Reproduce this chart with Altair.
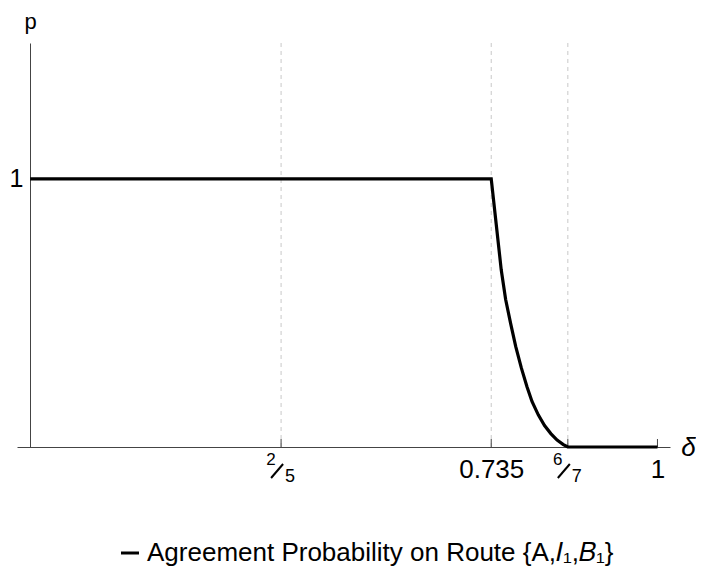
import altair as alt
import pandas as pd

# curve values
delta = [0.0, 0.735, 0.743, 0.751, 0.758, 0.766, 0.774, 0.783, 0.792, 0.800,
         0.810, 0.820, 0.830, 0.840, 0.850, 6/7, 1.0]
prob = [1.0, 1.0, 0.83, 0.66, 0.55, 0.46, 0.375, 0.295, 0.225, 0.17,
        0.12, 0.08, 0.05, 0.026, 0.009, 0.0, 0.0]
series_name = "Agreement Probability on Route {A,𝐼₁,𝐵₁}"

grid_pos = [0.4, 0.735, 6/7]
x_ticks = [0.4, 0.735, 6/7, 1.0]
x_tick_labels = ["", "0.735", "", "1"]
frac_pos = [0.4, 6/7]
frac_num = ["2", "6"]
frac_den = ["5", "7"]
y_ticks = [1.0]

FONT = "Liberation Sans"
XDOM = [-0.021, 1.02]
YDOM = [0, 1.507]

df = pd.DataFrame({"delta": delta, "p": prob, "series": series_name})
grid_df = pd.DataFrame({"g": grid_pos})
tick_df = pd.DataFrame({"t": x_ticks})
frac_df = pd.DataFrame({"f": frac_pos, "num": frac_num, "den": frac_den})

label_expr = " : ".join(
    f"abs(datum.value - {v}) < 1e-6 ? '{l}'" for v, l in zip(x_ticks, x_tick_labels)
) + " : ''"

xscale = alt.Scale(domain=XDOM, nice=False, zero=False)
yscale = alt.Scale(domain=YDOM, nice=False, zero=False)

grid = alt.Chart(grid_df).mark_rule(
    color="#c8c8c8", strokeWidth=1, strokeDash=[4, 4]
).encode(x=alt.X("g:Q", scale=xscale))

ticks = alt.Chart(tick_df).mark_rule(color="#444444", strokeWidth=1, y2Offset=-8).encode(
    x=alt.X("t:Q", scale=xscale),
    y=alt.datum(0, scale=yscale),
    y2=alt.datum(0),
)

num_text = alt.Chart(frac_df).mark_text(
    font=FONT, fontSize=17, color="black", align="center", baseline="alphabetic",
    dx=-10, dy=18,
).encode(x=alt.X("f:Q", scale=xscale), y=alt.datum(0, scale=yscale), text="num:N")

den_text = alt.Chart(frac_df).mark_text(
    font=FONT, fontSize=18, color="black", align="center", baseline="alphabetic",
    dx=9, dy=35,
).encode(x=alt.X("f:Q", scale=xscale), y=alt.datum(0, scale=yscale), text="den:N")

slash = alt.Chart(frac_df).mark_rule(
    color="black", strokeWidth=2, xOffset=-10, x2Offset=2, yOffset=31, y2Offset=17
).encode(
    x=alt.X("f:Q", scale=xscale),
    x2=alt.X2("f:Q"),
    y=alt.datum(0, scale=yscale),
    y2=alt.datum(0),
)

line = alt.Chart(df).mark_line(strokeWidth=3.2, interpolate="linear").encode(
    x=alt.X(
        "delta:Q",
        scale=xscale,
        axis=alt.Axis(
            values=x_ticks,
            labelExpr=label_expr,
            ticks=False,
            grid=False,
            domainColor="#444444",
            labelFontSize=26,
            labelFont=FONT,
            labelColor="black",
            labelPadding=9,
            labelFlush=False,
            labelOverlap=False,
            title="δ",
            titleFont=FONT,
            titleFontSize=26,
            titleFontStyle="italic",
            titleFontWeight="normal",
            titleColor="black",
            titleAnchor="start",
            titleAlign="center",
            titleBaseline="middle",
            titleX=671,
            titleY=0,
        ),
    ),
    y=alt.Y(
        "p:Q",
        scale=yscale,
        axis=alt.Axis(
            values=y_ticks,
            labelExpr="datum.value == 1 ? '1' : ''",
            ticks=False,
            grid=False,
            offset=-13,
            domainColor="#444444",
            labelFontSize=25,
            labelFont=FONT,
            labelColor="black",
            labelPadding=7,
            title="p",
            titleFont=FONT,
            titleFontSize=22,
            titleFontWeight="normal",
            titleColor="black",
            titleAngle=0,
            titleAlign="center",
            titleBaseline="alphabetic",
            titleX=0,
            titleY=-15,
        ),
    ),
    color=alt.Color(
        "series:N",
        scale=alt.Scale(range=["black"]),
        legend=alt.Legend(
            title=None,
            orient="none",
            legendX=100,
            legendY=497,
            symbolType="stroke",
            symbolStrokeWidth=3,
            symbolSize=324,
            labelFont=FONT,
            labelFontSize=26,
            labelColor="black",
            labelLimit=1000,
            padding=0,
        ),
    ),
)

chart = alt.layer(grid, ticks, slash, num_text, den_text, line).properties(
    width=653,
    height=404,
    background="white",
    autosize=alt.AutoSizeParams(type="none"),
    padding={"left": 9, "top": 35, "right": 26, "bottom": 129},
).configure_view(stroke=None)

chart.save("out.html", embed_options={"renderer": "svg", "actions": False})
